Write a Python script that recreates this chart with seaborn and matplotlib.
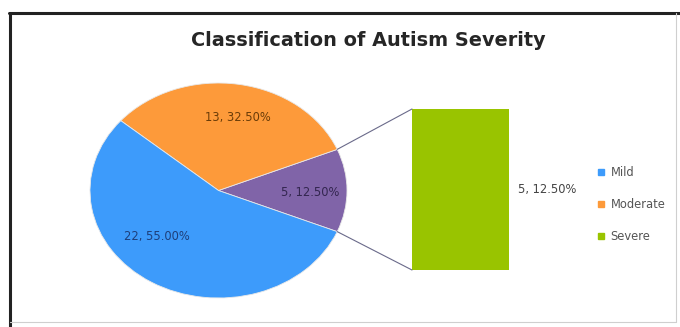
import numpy as np
import matplotlib
matplotlib.use("Agg")
import matplotlib.pyplot as plt
import seaborn as sns
import pandas as pd
from matplotlib.patches import ConnectionPatch
from matplotlib.lines import Line2D

sns.set_theme(style="white")
plt.rcParams["font.family"] = ["DejaVu Sans"]

# Data
categories = ["Mild", "Moderate", "Severe"]
counts = [22, 13, 5]
colors = {"Mild": "#3d9bfb", "Moderate": "#fd9a3a", "Severe": "#99c400"}
severe_wedge_color = "#8064a8"
label_colors = {"Mild": "#1e3f7a", "Moderate": "#6a3c08", "Severe": "#33264f"}
title = "Classification of Autism Severity"

total = sum(counts)
pcts = [c / total * 100 for c in counts]


def fmt(c, p):
    return f"{c}, {p:.2f}%"


W, H = 680, 327
fig = plt.figure(figsize=(W / 100, H / 100), dpi=100)
fig.patch.set_facecolor("white")


def fig_rect(x0, y0, x1, y1):
    return [x0 / W, 1 - y1 / H, (x1 - x0) / W, (y1 - y0) / H]


# Pie of pie: main pie drawn as an ellipse (aspect auto)
ax_pie = fig.add_axes(fig_rect(90, 83, 347, 298))
pie_order = ["Severe", "Moderate", "Mild"]
pie_vals = [counts[categories.index(k)] for k in pie_order]
pie_cols = [severe_wedge_color, colors["Moderate"], colors["Mild"]]
start = -pie_vals[0] / total * 360 / 2
wedges, _ = ax_pie.pie(pie_vals, colors=pie_cols, startangle=start,
                       counterclock=True, radius=1.0,
                       wedgeprops=dict(linewidth=0.6, edgecolor="#e8e8e8"))
ax_pie.set_aspect("auto")
ax_pie.set_xlim(-1.0, 1.0)
ax_pie.set_ylim(-1.0, 1.0)
ax_pie.axis("off")

label_pos = {"Mild": (-0.48, -0.43), "Moderate": (0.15, 0.68), "Severe": (0.71, -0.02)}
for cat, c, p in zip(categories, counts, pcts):
    x, y = label_pos[cat]
    ax_pie.text(x, y, fmt(c, p), ha="center", va="center", fontsize=8.3,
                color=label_colors[cat])

# Secondary bar for the split-out category
ax_bar = fig.add_axes(fig_rect(412, 109, 509, 270))
bar_df = pd.DataFrame({"cat": ["Severe"], "count": [counts[2]]})
sns.barplot(data=bar_df, x="cat", y="count", color=colors["Severe"],
            width=1.0, saturation=1.0, ax=ax_bar, edgecolor="none")
ax_bar.set_xlim(-0.5, 0.5)
ax_bar.set_ylim(0, counts[2])
ax_bar.axis("off")
ax_bar.text(1.09, 0.5, fmt(counts[2], pcts[2]), transform=ax_bar.transAxes,
            ha="left", va="center", fontsize=8.3, color="#444444")

# Connector lines from the split wedge to the bar
half = np.deg2rad(pie_vals[0] / total * 360 / 2)
for ang, yb in [(half, counts[2]), (-half, 0)]:
    con = ConnectionPatch(xyA=(np.cos(ang), np.sin(ang)), coordsA=ax_pie.transData,
                          xyB=(-0.5, yb), coordsB=ax_bar.transData,
                          color="#6a6a8a", linewidth=0.8)
    fig.add_artist(con)

# Title
fig.text(368 / W, 1 - 40 / H, title, ha="center", va="center",
         fontsize=13.9, fontweight="bold", color="#262626")

# Legend
handles = [Line2D([0], [0], marker="s", linestyle="none", markersize=4.5,
                  markerfacecolor=colors[c], markeredgecolor=colors[c])
           for c in categories]
fig.legend(handles, categories, loc="center left",
           bbox_to_anchor=(592 / W, 1 - 204.5 / H), frameon=False,
           fontsize=8.3, labelcolor="#555555", handlelength=0.6,
           handletextpad=0.5, labelspacing=1.65, borderpad=0)

# Outer frame
fig.add_artist(Line2D([10 / W, 10 / W], [0, 1 - 13 / H], color="#222222", lw=2.2,
                      transform=fig.transFigure))
fig.add_artist(Line2D([9 / W, 1], [1 - 13 / H, 1 - 13 / H], color="#222222", lw=2.2,
                      transform=fig.transFigure))
fig.add_artist(Line2D([676 / W, 676 / W], [1 - 13 / H, 1 - 322 / H], color="#cfcfcf",
                      lw=0.8, transform=fig.transFigure))
fig.add_artist(Line2D([10 / W, 676 / W], [1 - 322 / H, 1 - 322 / H], color="#cfcfcf",
                      lw=0.8, transform=fig.transFigure))

fig.savefig("out.png", dpi=100, facecolor="white")
